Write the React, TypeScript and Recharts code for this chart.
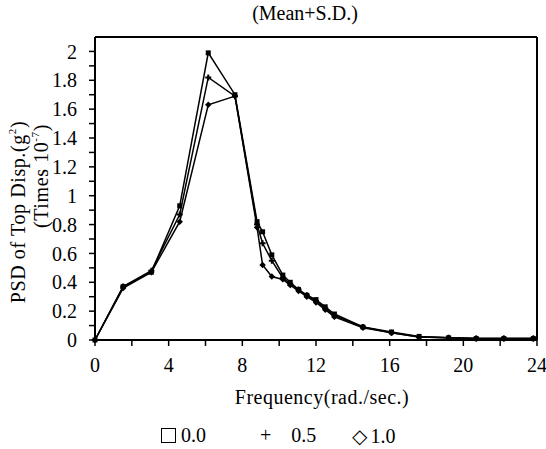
import React from 'react';
import { LineChart, Line, XAxis, YAxis, ReferenceLine } from 'recharts';

// frequencies (rad./sec.)
const freq = [0, 1.53, 3.06, 4.6, 6.15, 7.6, 8.8, 9.1, 9.6, 10.2, 10.6, 11.05, 11.5, 12.0, 12.5, 13.0, 14.55, 16.1, 17.6, 19.2, 20.7, 22.2, 23.8];
const s00 = [0, 0.37, 0.47, 0.93, 1.99, 1.7, 0.82, 0.75, 0.59, 0.45, 0.4, 0.35, 0.31, 0.28, 0.23, 0.18, 0.09, 0.055, 0.025, 0.015, 0.01, 0.01, 0.01];
const s05 = [0, 0.37, 0.48, 0.87, 1.82, 1.69, 0.8, 0.67, 0.55, 0.43, 0.39, 0.35, 0.31, 0.27, 0.22, 0.17, 0.09, 0.05, 0.02, 0.015, 0.01, 0.01, 0.01];
const s10 = [0, 0.36, 0.47, 0.82, 1.63, 1.69, 0.78, 0.52, 0.44, 0.42, 0.38, 0.34, 0.3, 0.26, 0.21, 0.16, 0.085, 0.05, 0.02, 0.015, 0.01, 0.01, 0.01];

const xTicks = [0, 2, 4, 6, 8, 10, 12, 14, 16, 18, 20, 22, 24];
const yTicks = [0, 0.1, 0.2, 0.3, 0.4, 0.5, 0.6, 0.7, 0.8, 0.9, 1, 1.1, 1.2, 1.3, 1.4, 1.5, 1.6, 1.7, 1.8, 1.9, 2];

const data = freq.map((f, i) => ({ f, a: s00[i], b: s05[i], c: s10[i] }));

const font = '"Liberation Serif", "DejaVu Serif", serif';
const line = { stroke: '#000', strokeWidth: 2 };

const squareDot = (p: any) => (
  <rect key={p.key ?? p.index} x={p.cx - 2.5} y={p.cy - 2.5} width={5} height={5} fill="#000" />
);
const crossDot = (p: any) => (
  <path key={p.key ?? p.index} d={`M${p.cx - 3},${p.cy}h6M${p.cx},${p.cy - 3}v6`} stroke="#000" strokeWidth={2} />
);
const diamondDot = (p: any) => (
  <path key={p.key ?? p.index} d={`M${p.cx},${p.cy - 3.2}l3.2,3.2l-3.2,3.2l-3.2,-3.2z`} fill="#000" />
);

export default function App() {
  return (
    <div style={{ position: 'absolute', left: 0, top: 0, width: 546, height: 449, background: '#fff', fontFamily: font, color: '#000' }}>
      <div style={{ position: 'absolute', top: 2, left: 0, width: 610, textAlign: 'center', fontSize: 20 }}>(Mean+S.D.)</div>
      <LineChart width={546} height={449} data={data} margin={{ top: 37, right: 9, bottom: 79, left: 0 }}>
        <XAxis
          dataKey="f"
          type="number"
          domain={[0, 24]}
          ticks={xTicks}
          interval={0}
          tickFormatter={(v: number) => (v % 4 === 0 ? String(v) : '')}
          axisLine={line}
          tickLine={{ stroke: '#000', strokeWidth: 1.5 }}
          tickSize={6}
          tickMargin={12}
          tick={{ fill: '#000', fontSize: 20, fontFamily: font }}
          height={30}
        />
        <YAxis
          type="number"
          domain={[0, 2.1]}
          ticks={yTicks}
          interval={0}
          tickFormatter={(v: number) => (Math.round(v * 10) % 2 === 0 ? String(Math.round(v * 10) / 10) : '')}
          axisLine={line}
          tickLine={{ stroke: '#000', strokeWidth: 1.5 }}
          tickSize={6}
          tickMargin={12}
          tick={{ fill: '#000', fontSize: 20, fontFamily: font }}
          width={95}
        />
        <ReferenceLine y={2.1} stroke="#000" strokeWidth={2} />
        <ReferenceLine x={24} stroke="#000" strokeWidth={2} />
        <Line dataKey="a" stroke="#000" strokeWidth={1.5} dot={squareDot} isAnimationActive={false} />
        <Line dataKey="b" stroke="#000" strokeWidth={1.5} dot={crossDot} isAnimationActive={false} />
        <Line dataKey="c" stroke="#000" strokeWidth={1.5} dot={diamondDot} isAnimationActive={false} />
      </LineChart>
      <svg style={{ position: 'absolute', left: 0, top: 0 }} width={70} height={360} fontFamily={font} fontSize={20}>
        <text x={18} y={212} transform="rotate(-90 18 212)" textAnchor="middle" dominantBaseline="central" letterSpacing={0.6}>
          PSD of Top Disp.(g<tspan dy={-6} fontSize={11}>2</tspan><tspan dy={6}>)</tspan>
        </text>
        <text x={41} y={176} transform="rotate(-90 41 176)" textAnchor="middle" dominantBaseline="central" letterSpacing={0.6}>
          (Times 10<tspan dy={-6} fontSize={11}>-7</tspan><tspan dy={6}>)</tspan>
        </text>
      </svg>
      <div style={{ position: 'absolute', top: 386, left: 0, width: 644, textAlign: 'center', fontSize: 20, letterSpacing: 0.5 }}>
        Frequency(rad./sec.)
      </div>
      <div style={{ position: 'absolute', top: 424, left: 0, width: 546, height: 26, fontSize: 20 }}>
        <span style={{ position: 'absolute', left: 161, top: 0 }}>
          <span style={{ display: 'inline-block', width: 13, height: 13, border: '1.5px solid #000', marginRight: 5, verticalAlign: -1 }} />0.0
        </span>
        <span style={{ position: 'absolute', left: 260, top: 0 }}>
          <span style={{ marginRight: 20 }}>+</span>0.5
        </span>
        <span style={{ position: 'absolute', left: 352, top: 0 }}>
          <span style={{ marginRight: 3 }}>◇</span>1.0
        </span>
      </div>
    </div>
  );
}
